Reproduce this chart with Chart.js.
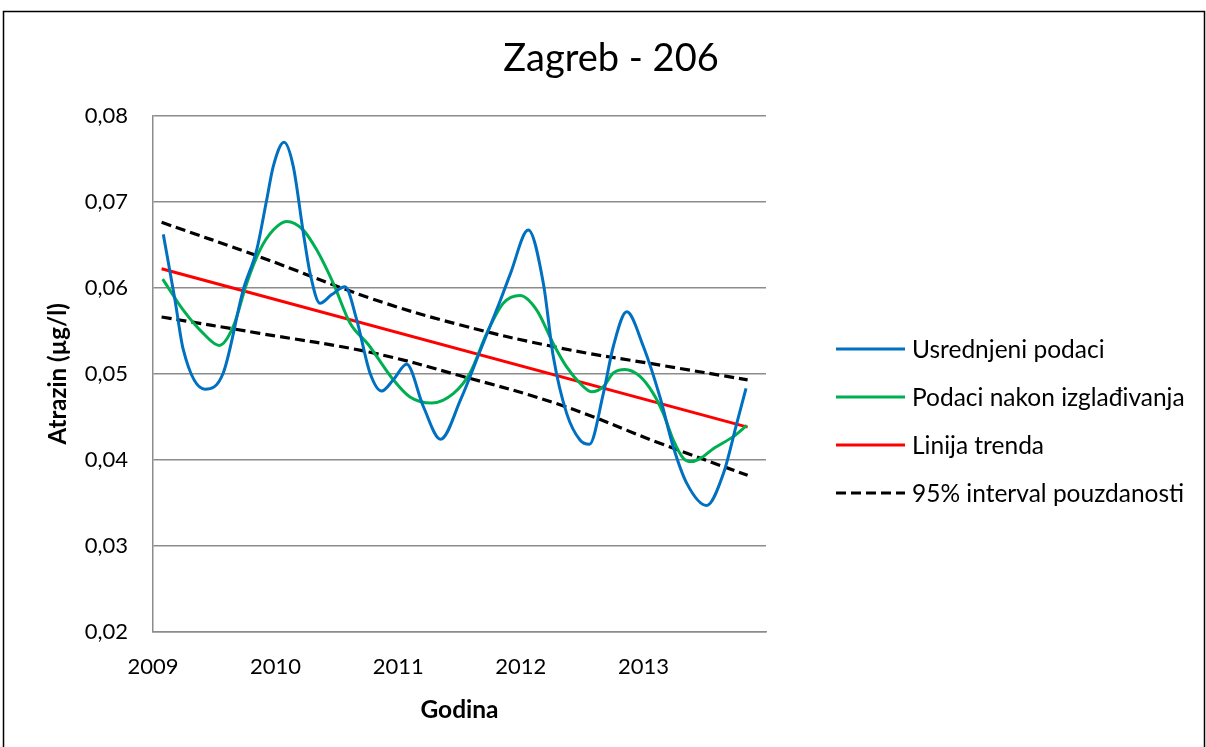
<!DOCTYPE html>
<html>
<head>
<meta charset="utf-8">
<title>Zagreb - 206</title>
<script src="https://cdn.jsdelivr.net/npm/chart.js@4.4.0/dist/chart.umd.min.js"></script>
<style>
  html, body { margin: 0; padding: 0; background: #ffffff; }
  #wrap { width: 1206px; height: 747px; position: relative; }
</style>
</head>
<body>
<div id="wrap"><canvas id="chart" width="1206" height="747"></canvas></div>
<script>
// Averaged measurements (year, µg/l)
const avgYears = [2009.084, 2009.179, 2009.247, 2009.424, 2009.573, 2009.737, 2009.846, 2009.927, 2009.981,
  2010.069, 2010.144, 2010.226, 2010.281, 2010.362, 2010.458, 2010.566, 2010.661, 2010.770, 2010.865,
  2010.960, 2011.069, 2011.205, 2011.346, 2011.509, 2011.672, 2011.835, 2011.917, 2012.061, 2012.184,
  2012.265, 2012.374, 2012.483, 2012.559, 2012.673, 2012.755, 2012.864, 2012.999, 2013.135, 2013.244,
  2013.353, 2013.516, 2013.652, 2013.761, 2013.837];
const avgValues = [0.0662, 0.0586, 0.0528, 0.0482, 0.0501, 0.0598, 0.0644, 0.0702, 0.0741,
  0.0769, 0.0741, 0.0664, 0.0617, 0.0582, 0.0592, 0.0601, 0.0563, 0.0501, 0.0480,
  0.0493, 0.0511, 0.0462, 0.0424, 0.0470, 0.0528, 0.0586, 0.0617, 0.0667, 0.0605,
  0.0520, 0.0454, 0.0423, 0.0418, 0.0477, 0.0532, 0.0572, 0.0532, 0.0473, 0.0415,
  0.0373, 0.0347, 0.0384, 0.0442, 0.0483];

// Smoothed series
const smoothYears = [2009.079, 2009.247, 2009.410, 2009.541, 2009.655, 2009.764, 2009.873, 2009.981, 2010.091,
  2010.226, 2010.335, 2010.471, 2010.607, 2010.756, 2010.960, 2011.096, 2011.273, 2011.449, 2011.586,
  2011.722, 2011.857, 2011.994, 2012.130, 2012.265, 2012.374, 2012.483, 2012.578, 2012.673, 2012.755,
  2012.850, 2012.972, 2013.081, 2013.162, 2013.244, 2013.325, 2013.394, 2013.489, 2013.570, 2013.733,
  2013.843];
const smoothValues = [0.0610, 0.0574, 0.0547, 0.0533, 0.0555, 0.0605, 0.0644, 0.0667, 0.0677,
  0.0667, 0.0644, 0.0605, 0.0559, 0.0534, 0.0493, 0.0473, 0.0466, 0.0477, 0.0501,
  0.0547, 0.0582, 0.0591, 0.0574, 0.0535, 0.0508, 0.0489, 0.0479, 0.0485, 0.0501,
  0.0505, 0.0497, 0.0477, 0.0454, 0.0423, 0.0402, 0.0398, 0.0404, 0.0413, 0.0427,
  0.0440];

// Linear trend
const trendYears = [2009.07, 2013.85];
const trendValues = [0.0622, 0.0438];

// 95% confidence band
const bandYears = [2009.07, 2009.87, 2010.77, 2011.50, 2012.32, 2013.14, 2013.85];
const bandUpper = [0.0676, 0.0636, 0.0588, 0.0557, 0.0530, 0.0510, 0.0493];
const bandLower = [0.0566, 0.0547, 0.0525, 0.0498, 0.0464, 0.0419, 0.0382];

// Axis ticks
const yearTicks = [2009, 2010, 2011, 2012, 2013];
const seriesNames = ['Usrednjeni podaci', 'Podaci nakon izglađivanja', 'Linija trenda', '95% interval pouzdanosti'];

const FONT = 'Lato, "Open Sans", sans-serif';
const pairs = (xs, ys) => xs.map((x, i) => ({ x: x, y: ys[i] }));

const chartFrame = {
  id: 'chartFrame',
  beforeDraw(chart) {
    const ctx = chart.ctx;
    ctx.save();
    ctx.fillStyle = '#ffffff';
    ctx.fillRect(0, 0, chart.width, chart.height);
    ctx.restore();
  },
  afterDraw(chart) {
    const ctx = chart.ctx;
    ctx.save();
    ctx.strokeStyle = '#000000';
    ctx.lineWidth = 1.5;
    ctx.strokeRect(3.5, 11.5, 1201, 800);
    ctx.restore();
  }
};

// Legend on the right: a line sample followed by the series name
const sideLegend = {
  id: 'sideLegend',
  afterDraw(chart) {
    const ctx = chart.ctx;
    const x0 = 836, x1 = 905, tx = 912, y0 = 349, dy = 48;
    let row = 0;
    ctx.save();
    chart.data.datasets.forEach(ds => {
      if (ds.hideInLegend) return;
      const y = y0 + row * dy;
      ctx.beginPath();
      ctx.setLineDash(ds.borderDash || []);
      ctx.strokeStyle = ds.borderColor;
      ctx.lineWidth = ds.borderWidth;
      ctx.moveTo(x0, y);
      ctx.lineTo(x1, y);
      ctx.stroke();
      ctx.setLineDash([]);
      ctx.fillStyle = '#000000';
      ctx.font = '24.5px ' + FONT;
      ctx.textBaseline = 'middle';
      ctx.textAlign = 'left';
      ctx.fillText(ds.label, tx, y + 1);
      row++;
    });
    ctx.restore();
  }
};

new Chart(document.getElementById('chart'), {
  type: 'line',
  data: {
    datasets: [
      { label: seriesNames[0], data: pairs(avgYears, avgValues), borderColor: '#0070C0', borderWidth: 3, cubicInterpolationMode: 'monotone' },
      { label: seriesNames[1], data: pairs(smoothYears, smoothValues), borderColor: '#00B050', borderWidth: 3, cubicInterpolationMode: 'monotone' },
      { label: seriesNames[2], data: pairs(trendYears, trendValues), borderColor: '#FF0000', borderWidth: 3, tension: 0 },
      { label: seriesNames[3], data: pairs(bandYears, bandUpper), borderColor: '#000000', borderWidth: 3.2, borderDash: [10, 5], tension: 0.4 },
      { label: seriesNames[3], data: pairs(bandYears, bandLower), borderColor: '#000000', borderWidth: 3.2, borderDash: [10, 5], tension: 0.4, hideInLegend: true }
    ]
  },
  options: {
    responsive: false,
    animation: false,
    devicePixelRatio: 1,
    elements: { point: { radius: 0, hoverRadius: 0 }, line: { fill: false, borderCapStyle: 'butt' } },
    layout: { padding: { left: 16, right: 0, top: 0, bottom: 0 } },
    plugins: {
      legend: { display: false },
      tooltip: { enabled: false },
      title: {
        display: true,
        text: 'Zagreb - 206',
        color: '#000000',
        font: { family: FONT, size: 38, weight: 'normal', lineHeight: 1.2 },
        padding: { top: 36, bottom: 34 }
      }
    },
    scales: {
      x: {
        type: 'linear',
        min: 2009,
        max: 2014,
        afterBuildTicks(scale) { scale.ticks = yearTicks.concat([2014]).map(v => ({ value: v })); },
        afterFit(scale) { scale.height = 115; },
        ticks: {
          color: '#000000',
          font: { family: FONT, size: 22 },
          padding: 22,
          maxRotation: 0,
          autoSkip: false,
          callback: v => (yearTicks.includes(v) ? String(v) : '')
        },
        grid: { display: false, drawTicks: false },
        border: { display: true, color: '#8c8c8c', width: 1.5 },
        title: {
          display: true,
          text: 'Godina',
          color: '#000000',
          font: { family: FONT, size: 24.5, weight: 'bold', lineHeight: 1.2 },
          padding: { top: 0, bottom: 22 }
        }
      },
      y: {
        min: 0.02,
        max: 0.08,
        afterFit(scale) { scale.width = 137; },
        ticks: {
          stepSize: 0.01,
          color: '#000000',
          font: { family: FONT, size: 22 },
          padding: 25,
          callback: v => v.toFixed(2).replace('.', ',')
        },
        grid: { color: '#8c8c8c', lineWidth: 1.5, drawTicks: false },
        border: { display: true, color: '#8c8c8c', width: 1.5 },
        title: {
          display: true,
          text: 'Atrazin (µg/l)',
          color: '#000000',
          font: { family: FONT, size: 24, weight: 'bold', lineHeight: 1.2 },
          padding: { top: 28, bottom: 0 }
        }
      },
      // empty right-hand gutter that holds the legend
      side: {
        type: 'linear',
        position: 'right',
        display: true,
        afterFit(scale) { scale.width = 440; },
        ticks: { display: false },
        grid: { display: false, drawTicks: false },
        border: { display: false },
        title: { display: false }
      }
    }
  },
  plugins: [chartFrame, sideLegend]
});
</script>
</body>
</html>
